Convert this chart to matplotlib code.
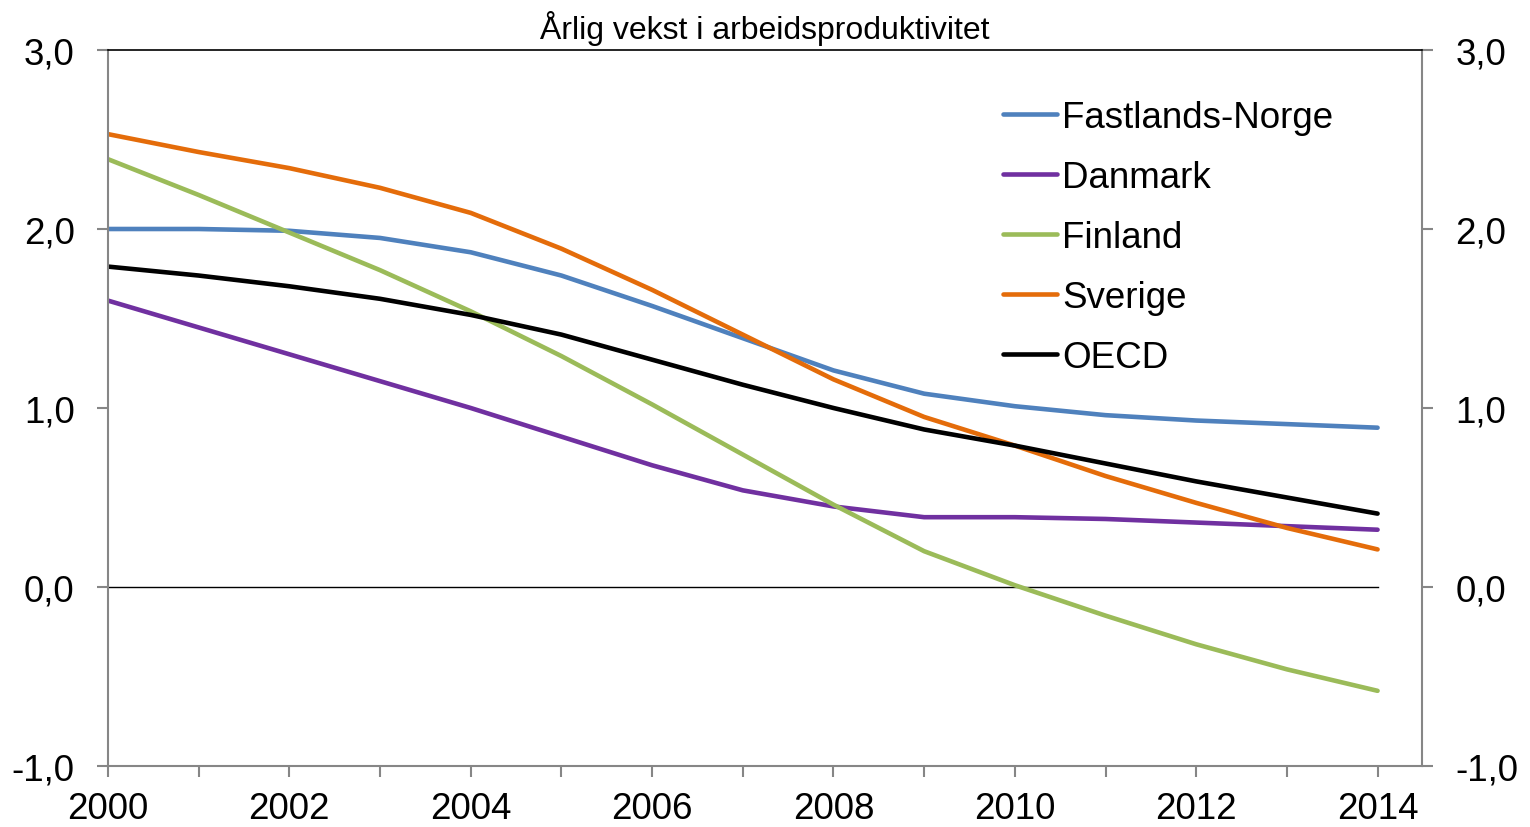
import matplotlib
matplotlib.use("Agg")
import matplotlib.pyplot as plt
from matplotlib.ticker import FuncFormatter, MultipleLocator

# -------------------------------------------------------------------------------------
# Data
years = list(range(2000, 2015))

norge = [2.00, 2.00, 1.99, 1.95, 1.87, 1.74, 1.57, 1.39, 1.21, 1.08, 1.01, 0.96, 0.93, 0.91, 0.89]
danmark = [1.60, 1.45, 1.30, 1.15, 1.00, 0.84, 0.68, 0.54, 0.45, 0.39, 0.39, 0.38, 0.36, 0.34, 0.32]
finland = [2.39, 2.19, 1.98, 1.77, 1.54, 1.29, 1.02, 0.74, 0.46, 0.20, 0.01, -0.16, -0.32, -0.46, -0.58]
sverige = [2.53, 2.43, 2.34, 2.23, 2.09, 1.89, 1.66, 1.41, 1.16, 0.95, 0.79, 0.62, 0.47, 0.33, 0.21]
oecd = [1.79, 1.74, 1.68, 1.61, 1.52, 1.41, 1.27, 1.13, 1.00, 0.88, 0.79, 0.69, 0.59, 0.50, 0.41]

series_names = ['Fastlands-Norge', 'Danmark', 'Finland', 'Sverige', 'OECD']
series_colors = ['#4F81BD', '#7030A0', '#9BBB59', '#E46C0A', '#000000']
title = 'Årlig vekst i arbeidsproduktivitet'
# -------------------------------------------------------------------------------------

plt.rcParams['font.family'] = ['Liberation Sans', 'DejaVu Sans']

fig = plt.figure(figsize=(15.3, 8.28), dpi=100)
ax = fig.add_axes([108 / 1530, 1 - 767 / 828, (1422 - 108) / 1530, (767 - 51) / 828])

for vals, name, col in zip([norge, danmark, finland, sverige, oecd], series_names, series_colors):
    ax.plot(years, vals, color=col, lw=3.3, label=name, solid_capstyle='round')

ax.plot([years[0], years[-1]], [0, 0], color='black', lw=1.0, zorder=1)

ax.set_xlim(2000, 2014.49)
ax.set_ylim(-1.0, 3.0)

grey = '#868686'
for side in ['left', 'right', 'bottom']:
    ax.spines[side].set_color(grey)
    ax.spines[side].set_linewidth(1.5)
ax.spines['top'].set_color('black')
ax.spines['top'].set_linewidth(1.2)

ax.xaxis.set_major_locator(MultipleLocator(2))
ax.xaxis.set_minor_locator(MultipleLocator(1))
ax.yaxis.set_major_locator(MultipleLocator(1))
ax.yaxis.set_major_formatter(FuncFormatter(lambda v, p: f'{v:.1f}'.replace('.', ',')))

ax.tick_params(axis='x', which='both', direction='out', length=8, width=1.5, color=grey,
               labelsize=26.5, pad=10)
ax.tick_params(axis='y', which='both', direction='out', length=8, width=1.5, color=grey,
               labelsize=26.5, pad=16, left=True, right=True, labelleft=True, labelright=True)

ax.set_title(title, fontsize=23, pad=9)

ax.legend(loc='upper left', bbox_to_anchor=(1003 / 1530, 1 - 101 / 828), bbox_transform=fig.transFigure,
          frameon=False, fontsize=26.5, handlelength=1.47, handletextpad=0.14, labelspacing=0.68,
          borderpad=0, borderaxespad=0)

fig.savefig('out.png', dpi=100)
